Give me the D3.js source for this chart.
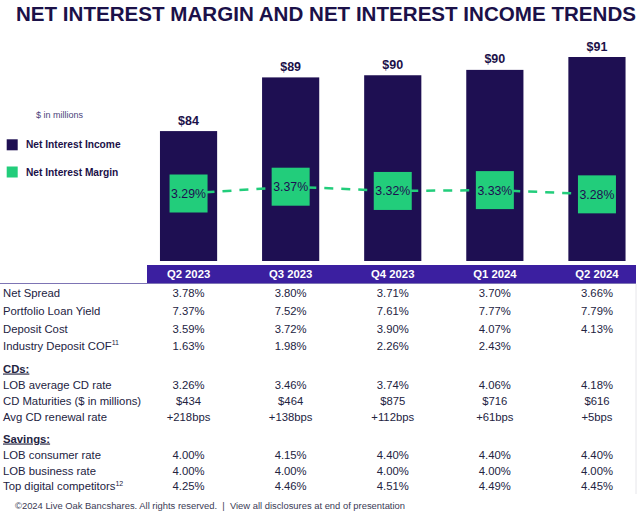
<!DOCTYPE html>
<html>
<head>
<meta charset="utf-8">
<script src="https://cdn.jsdelivr.net/npm/d3@7"></script>
<style>
  html, body { margin: 0; padding: 0; background: #ffffff; }
  svg { display: block; font-family: "Liberation Sans", Arial, sans-serif; }
</style>
</head>
<body>
<svg id="chart" width="640" height="516"></svg>
<script>
// ---------------- DATA ----------------
const quarters = ["Q2 2023", "Q3 2023", "Q4 2023", "Q1 2024", "Q2 2024"];
const netInterestIncome = [84.3, 89.3, 89.5, 90.0, 91.2];          // $ millions (estimated)
const netInterestIncomeLabels = ["$84", "$89", "$90", "$90", "$91"];
const netInterestMargin = [3.29, 3.37, 3.32, 3.33, 3.28];           // %
const nimLabels = ["3.29%", "3.37%", "3.32%", "3.33%", "3.28%"];

const rateRowLabels = ["Net Spread", "Portfolio Loan Yield", "Deposit Cost", "Industry Deposit COF"];
const rateRowSup = ["", "", "", "11"];
const netSpread = ["3.78%", "3.80%", "3.71%", "3.70%", "3.66%"];
const portfolioLoanYield = ["7.37%", "7.52%", "7.61%", "7.77%", "7.79%"];
const depositCost = ["3.59%", "3.72%", "3.90%", "4.07%", "4.13%"];
const industryDepositCOF = ["1.63%", "1.98%", "2.26%", "2.43%", ""];

const cdRowLabels = ["LOB average CD rate", "CD Maturities ($ in millions)", "Avg CD renewal rate"];
const lobAvgCdRate = ["3.26%", "3.46%", "3.74%", "4.06%", "4.18%"];
const cdMaturities = ["$434", "$464", "$875", "$716", "$616"];
const avgCdRenewal = ["+218bps", "+138bps", "+112bps", "+61bps", "+5bps"];

const savingsRowLabels = ["LOB consumer rate", "LOB business rate", "Top digital competitors"];
const savingsRowSup = ["", "", "12"];
const lobConsumerRate = ["4.00%", "4.15%", "4.40%", "4.40%", "4.40%"];
const lobBusinessRate = ["4.00%", "4.00%", "4.00%", "4.00%", "4.00%"];
const topDigital = ["4.25%", "4.46%", "4.51%", "4.49%", "4.45%"];

const titleText = "NET INTEREST MARGIN AND NET INTEREST INCOME TRENDS";
const legendItems = ["Net Interest Income", "Net Interest Margin"];
const footerText = "©2024 Live Oak Bancshares. All rights reserved.  |  View all disclosures at end of presentation";

// ---------------- STYLE ----------------
const NAVY = "#1e0f52";
const GREEN = "#22cd7b";
const HEADER = "#3b1fa0";
const TITLE = "#1b1149";
const TEXT = "#23233f";

const svg = d3.select("#chart");

// Title
svg.append("text")
  .attr("x", 16).attr("y", 20.7)
  .attr("font-size", 19.5).attr("font-weight", "bold")
  .attr("fill", TITLE)
  .attr("textLength", 620).attr("lengthAdjust", "spacingAndGlyphs")
  .text(titleText);

// Scales
const x = d3.scaleBand().domain(quarters).range([137.5, 648]).paddingInner(0.44).paddingOuter(0.22);
const y = d3.scaleLinear().domain([72.2, 91.2]).range([261, 57]);
const y2 = d3.scaleLinear().domain([3.0, 3.5]).range([218.15, 175.65]);
const cx = q => x(q) + x.bandwidth() / 2;

// Bars
svg.append("g").selectAll("rect")
  .data(quarters)
  .join("rect")
  .attr("x", d => x(d))
  .attr("y", (d, i) => y(netInterestIncome[i]))
  .attr("width", x.bandwidth())
  .attr("height", (d, i) => y.range()[0] - y(netInterestIncome[i]))
  .attr("fill", NAVY);

// Bar value labels
svg.append("g").selectAll("text")
  .data(quarters)
  .join("text")
  .attr("x", d => cx(d))
  .attr("y", (d, i) => y(netInterestIncome[i]) - 6.5)
  .attr("text-anchor", "middle")
  .attr("font-size", 12.5).attr("font-weight", "bold")
  .attr("fill", TITLE)
  .text((d, i) => netInterestIncomeLabels[i]);

// NIM dashed line
const line = d3.line().x(d => cx(d.q)).y(d => y2(d.v));
const nimData = quarters.map((q, i) => ({ q, v: netInterestMargin[i] }));
svg.append("path")
  .datum(nimData)
  .attr("d", line)
  .attr("fill", "none")
  .attr("stroke", GREEN)
  .attr("stroke-width", 2.5)
  .attr("stroke-dasharray", "9,8");

// NIM boxes
const boxSize = 38;
svg.append("g").selectAll("rect")
  .data(nimData)
  .join("rect")
  .attr("x", d => cx(d.q) - boxSize / 2)
  .attr("y", d => y2(d.v) - boxSize / 2)
  .attr("width", boxSize).attr("height", boxSize)
  .attr("fill", GREEN);

svg.append("g").selectAll("text")
  .data(nimData)
  .join("text")
  .attr("x", d => cx(d.q))
  .attr("y", d => y2(d.v) + 4.4)
  .attr("text-anchor", "middle")
  .attr("font-size", 12.3)
  .attr("fill", NAVY)
  .text((d, i) => nimLabels[i]);

// Legend
svg.append("text")
  .attr("x", 36).attr("y", 118)
  .attr("font-size", 9).attr("fill", "#4a3f7a")
  .text("$ in millions");
const legColors = [NAVY, GREEN];
const legY = [144.8, 172];
legendItems.forEach((t, i) => {
  svg.append("rect").attr("x", 6.7).attr("y", legY[i] - 5.5).attr("width", 11).attr("height", 11).attr("fill", legColors[i]);
  svg.append("text").attr("x", 26).attr("y", legY[i] + 3.6)
    .attr("font-size", 10.2).attr("font-weight", "bold").attr("fill", TITLE).text(t);
});

// Table header bar
svg.append("rect").attr("x", 147).attr("y", 265).attr("width", 489).attr("height", 18.5).attr("fill", HEADER);
svg.append("line").attr("x1", 0).attr("x2", 636).attr("y1", 283.5).attr("y2", 283.5)
  .attr("stroke", "#7d74b4").attr("stroke-width", 1);
svg.append("g").selectAll("text")
  .data(quarters)
  .join("text")
  .attr("x", d => cx(d))
  .attr("y", 278.2)
  .attr("text-anchor", "middle")
  .attr("font-size", 11.3).attr("font-weight", "bold").attr("fill", "#ffffff")
  .text(d => d);

// Right faint border
svg.append("line").attr("x1", 636).attr("x2", 636).attr("y1", 284).attr("y2", 494)
  .attr("stroke", "#e6e6ea").attr("stroke-width", 1);

// Table rows
const FS = 11.3;
function row(label, sup, values, yc) {
  const t = svg.append("text").attr("x", 3).attr("y", yc + 4).attr("font-size", FS).attr("fill", TEXT).text(label);
  if (sup) {
    t.append("tspan").attr("dy", -4.5).attr("font-size", 7).text(sup);
  }
  svg.append("g").selectAll("text")
    .data(values)
    .join("text")
    .attr("x", (d, i) => cx(quarters[i]))
    .attr("y", yc + 4)
    .attr("text-anchor", "middle")
    .attr("font-size", FS).attr("fill", TEXT)
    .text(d => d);
}
function sectionHead(label, yc) {
  svg.append("text").attr("x", 3).attr("y", yc + 4).attr("font-size", FS).attr("font-weight", "bold")
    .attr("fill", TEXT).attr("text-decoration", "underline").text(label);
}

const rateVals = [netSpread, portfolioLoanYield, depositCost, industryDepositCOF];
const rateY = [293.3, 311, 328.7, 345.7];
rateRowLabels.forEach((l, i) => row(l, rateRowSup[i], rateVals[i], rateY[i]));

sectionHead("CDs:", 368.5);
const cdVals = [lobAvgCdRate, cdMaturities, avgCdRenewal];
const cdY = [384.8, 400.7, 416.7];
cdRowLabels.forEach((l, i) => row(l, "", cdVals[i], cdY[i]));

sectionHead("Savings:", 438.5);
const savVals = [lobConsumerRate, lobBusinessRate, topDigital];
const savY = [454.8, 470.5, 486.3];
savingsRowLabels.forEach((l, i) => row(l, savingsRowSup[i], savVals[i], savY[i]));

// Footer
svg.append("text").attr("x", 15).attr("y", 509)
  .attr("font-size", 9.2).attr("fill", "#3a3a55")
  .attr("xml:space", "preserve")
  .attr("textLength", 390).attr("lengthAdjust", "spacingAndGlyphs")
  .text(footerText);
</script>
</body>
</html>
